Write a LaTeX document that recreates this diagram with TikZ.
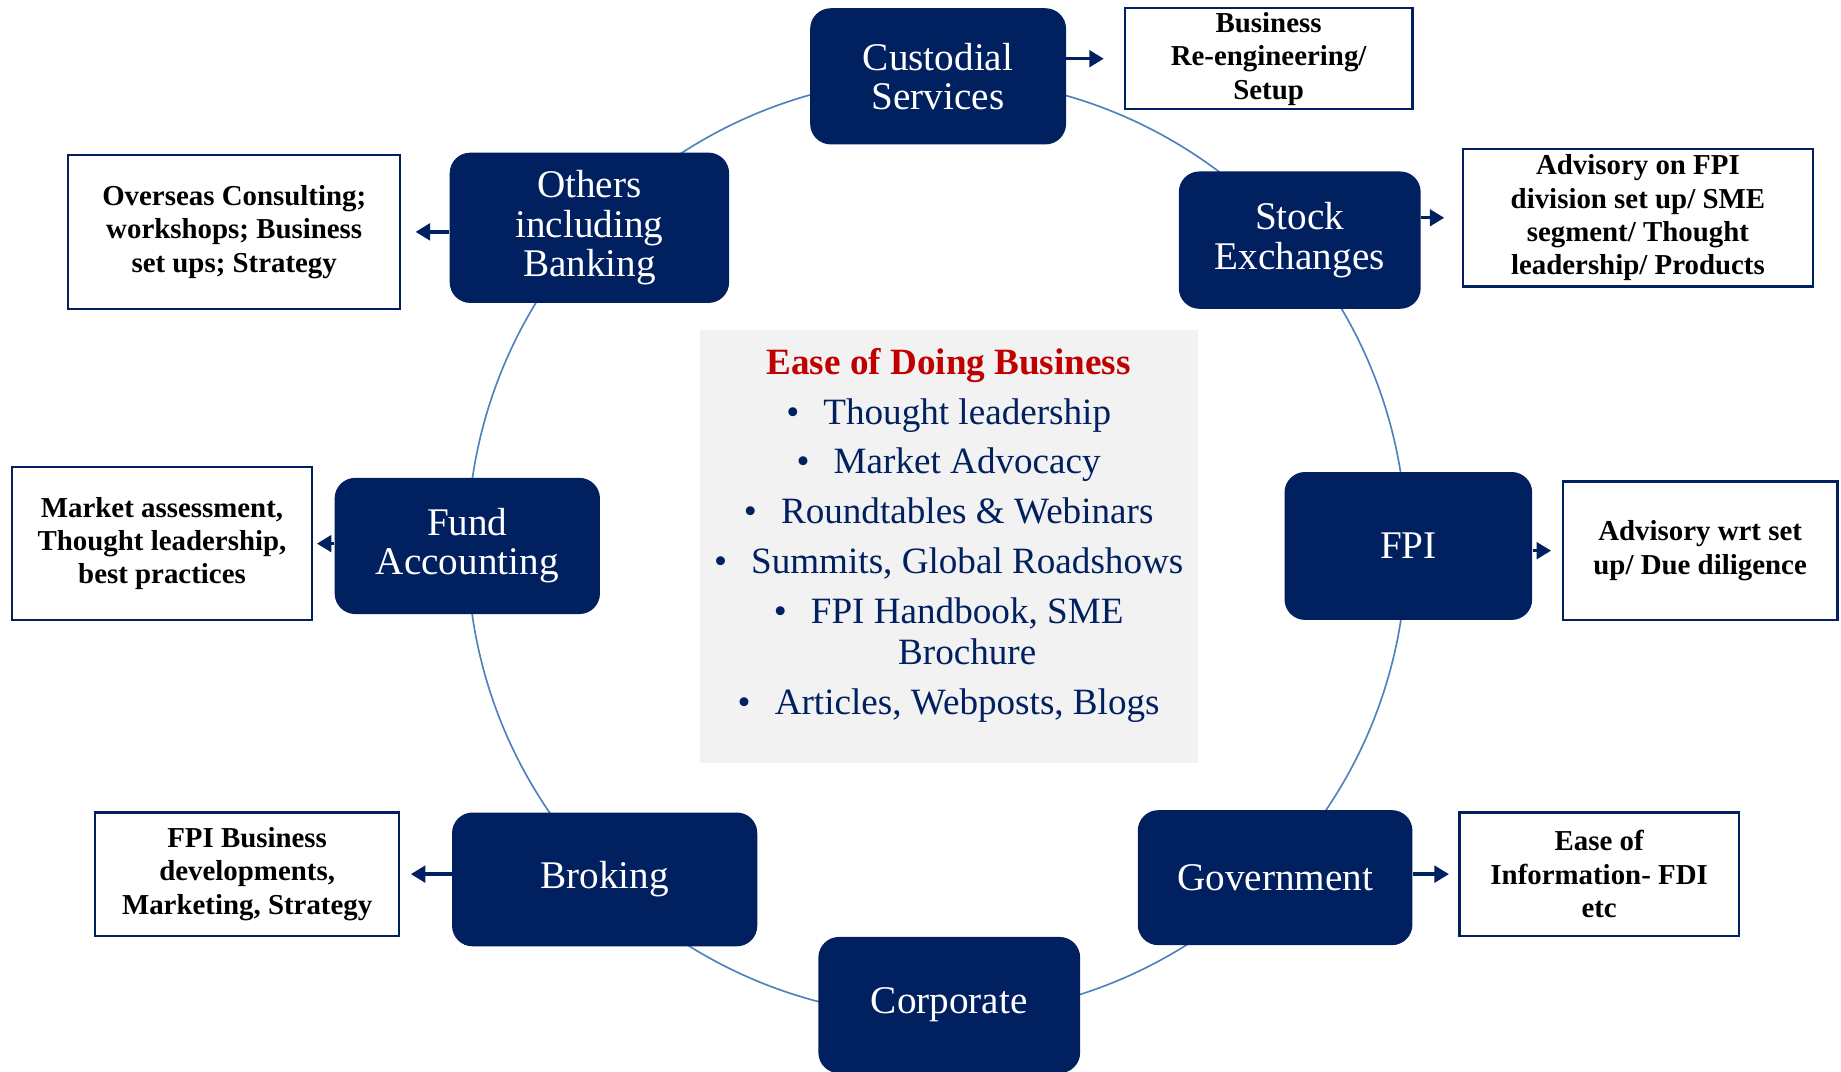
\documentclass[tikz,border=0pt]{standalone}
\usepackage{fontspec}
\setmainfont{Liberation Serif}
\usetikzlibrary{arrows.meta}

\definecolor{navy}{HTML}{002060}
\definecolor{ringblue}{HTML}{4F81BD}
\definecolor{edbred}{HTML}{C00000}
\definecolor{edbgrey}{HTML}{F2F2F2}
\newcommand{\bul}{\makebox[18pt][l]{\textbullet}}

\begin{document}
\begin{tikzpicture}[x=0.02cm,y=-0.02cm,
	hubbox/.style={fill=navy,text=white,rounded corners=0.35cm,align=center,inner sep=0pt,font=\fontsize{19}{19}\selectfont},
	notebox/.style={draw=navy,line width=1.1pt,fill=white,align=center,inner sep=0pt,font=\fontsize{14}{16.2}\selectfont\bfseries},
	feed/.style={draw=navy,line width=1.6pt,-{Triangle[length=7pt,width=8pt]}},
	ring/.style={draw=ringblue,line width=0.8pt}]
	\useasboundingbox (0,0) rectangle (1568,913);

	% ring behind the service boxes
	\coordinate (hub) at (798,466);
	\draw[ring] (hub) circle [radius=8cm];

	% centre panel
	\node[fill=edbgrey,minimum width=8.48cm,minimum height=7.38cm,inner sep=0pt] (edbbox) at (808,465.5) {};
	\node[anchor=north,align=center,text=navy,inner sep=0pt,font=\fontsize{18}{20}\selectfont] (edb) at (808,296)
		{{\color{edbred}\bfseries Ease of Doing Business}\\[4.2pt]
		\bul Thought leadership\\[4.2pt]
		\bul Market Advocacy\\[4.2pt]
		\bul Roundtables \& Webinars\\[4.2pt]
		\bul Summits, Global Roadshows\\[4.2pt]
		\bul FPI Handbook, SME\\
		\hspace*{18pt}Brochure\\[4.2pt]
		\bul Articles, Webposts, Blogs};

	% service boxes on the ring
	\node[hubbox,minimum width=4.36cm,minimum height=2.32cm] (cust) at (799,65) {Custodial\\Services};
	\node[hubbox,minimum width=4.76cm,minimum height=2.56cm] (others) at (502,194) {Others\\including\\Banking};
	\node[hubbox,minimum width=4.12cm,minimum height=2.34cm] (stock) at (1107,204.5) {Stock\\Exchanges};
	\node[hubbox,minimum width=4.52cm,minimum height=2.32cm] (fund) at (398,465) {Fund\\Accounting};
	\node[hubbox,minimum width=4.22cm,minimum height=2.52cm] (fpi) at (1199.5,465) {FPI};
	\node[hubbox,minimum width=5.2cm,minimum height=2.28cm] (brok) at (515,749) {Broking};
	\node[hubbox,minimum width=4.68cm,minimum height=2.3cm] (govt) at (1086,747.5) {Government};
	\node[hubbox,minimum width=4.46cm,minimum height=2.32cm] (corp) at (808.5,856) {Corporate};

	% what each one gets
	\node[notebox,minimum width=4.9cm,minimum height=1.72cm] (reeng) at (1080.5,50) {Business\\Re-engineering/\\Setup};
	\node[notebox,minimum width=5.66cm,minimum height=2.62cm] (oversea) at (199.5,197.5) {Overseas Consulting;\\workshops; Business\\set ups; Strategy};
	\node[notebox,minimum width=5.96cm,minimum height=2.34cm] (advfpi) at (1395,185.5) {Advisory on FPI\\division set up/ SME\\segment/ Thought\\leadership/ Products};
	\node[notebox,minimum width=5.12cm,minimum height=2.6cm] (mkt) at (138,463) {Market assessment,\\Thought leadership,\\best practices};
	\node[notebox,minimum width=4.68cm,minimum height=2.36cm] (advwrt) at (1448,469) {Advisory wrt set\\up/ Due diligence};
	\node[notebox,minimum width=5.18cm,minimum height=2.1cm] (fpibiz) at (210.5,744.5) {FPI Business\\developments,\\Marketing, Strategy};
	\node[notebox,minimum width=4.76cm,minimum height=2.1cm] (easeinfo) at (1362,744.5) {Ease of\\Information- FDI\\etc};

	\foreach \a/\b/\g in {cust/reeng/0.34,stock/advfpi/0.3,fpi/advwrt/0.18,govt/easeinfo/0.16}
		\draw[feed,shorten >=\g cm] (\a.east |- \b.west) -- (\b.west);
	\foreach \a/\b/\g in {others/oversea/0.24,fund/mkt/0.06,brok/fpibiz/0.18}
		\draw[feed,shorten >=\g cm] (\a.west |- \b.east) -- (\b.east);
\end{tikzpicture}
\end{document}
